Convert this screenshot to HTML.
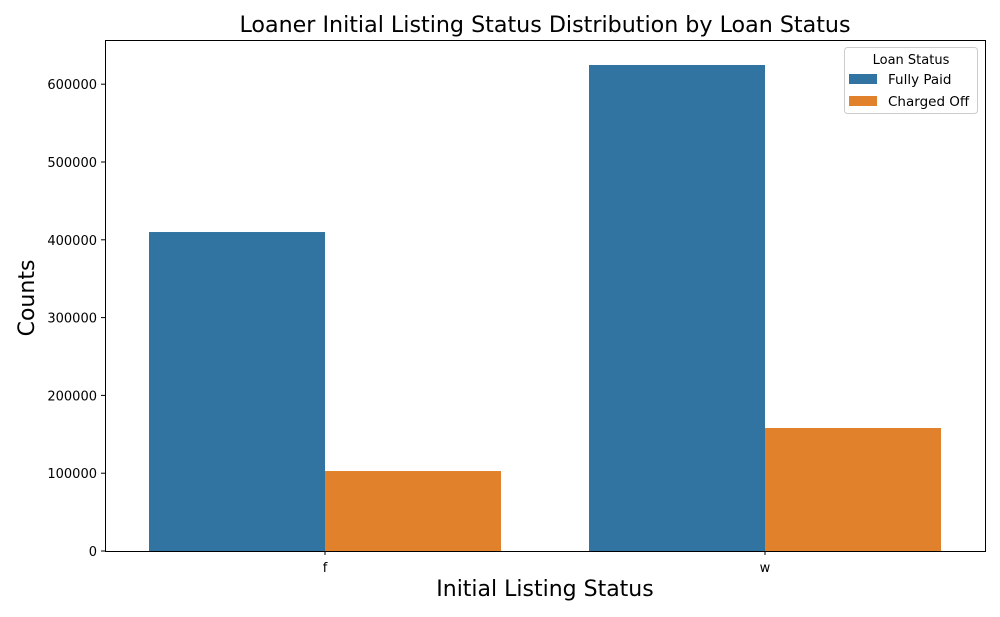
<!DOCTYPE html>
<html><head><meta charset="utf-8"><style>
body{margin:0;background:#fff;}
svg{display:block;font-family:"DejaVu Sans","Liberation Sans",sans-serif;}
</style></head><body>
<svg id="chart" width="1000" height="617" xmlns="http://www.w3.org/2000/svg">
<rect width="1000" height="617" fill="#fff"/>
<text x="545" y="32" text-anchor="middle" font-size="22.2">Loaner Initial Listing Status Distribution by Loan Status</text>
<g id="bars"></g>
<g id="yticks"></g>
<g id="xticks"></g>
<rect x="105.5" y="40.5" width="880" height="511" fill="none" stroke="#000" stroke-width="1"/>
<text x="545" y="596" text-anchor="middle" font-size="22">Initial Listing Status</text>
<text transform="translate(34,298) rotate(-90)" text-anchor="middle" font-size="22">Counts</text>
<g>
<rect x="844.5" y="47.5" width="133" height="66" rx="3" fill="#fff" stroke="#ccc"/>
<text x="911" y="64" text-anchor="middle" font-size="13">Loan Status</text>
<rect x="849" y="74" width="28" height="10" fill="#3274a1"/>
<text x="888" y="84" font-size="13.5">Fully Paid</text>
<rect x="849" y="96" width="28" height="10" fill="#e1812c"/>
<text x="888" y="106" font-size="13.5">Charged Off</text>
</g>
</svg>
<script>
const categories = ["f", "w"];
const fullyPaid = [410000, 624700];
const chargedOff = [102800, 158100];
const yTicks = [0, 100000, 200000, 300000, 400000, 500000, 600000];
const ns = "http://www.w3.org/2000/svg";
const x0 = 105, x1 = 985, yBase = 551, pxPer = 77.8 / 100000;
const band = (x1 - x0) / categories.length;
function y(v) { return yBase - v * pxPer; }
function xc(i) { return x0 + band * (i + 0.5); }
const bw = band * 0.4;
const bars = document.getElementById("bars");
function mk(tag, attrs, parent) {
  const e = document.createElementNS(ns, tag);
  for (const k in attrs) e.setAttribute(k, attrs[k]);
  parent.appendChild(e);
  return e;
}
categories.forEach((c, i) => {
  const b1 = mk("rect", {x: xc(i) - bw, y: y(fullyPaid[i]), width: bw, height: yBase - y(fullyPaid[i]), fill: "#3274a1"}, bars);
  
  
  const b2 = mk("rect", {x: xc(i), y: y(chargedOff[i]), width: bw, height: yBase - y(chargedOff[i]), fill: "#e1812c"}, bars);
  
  
  const xt = document.getElementById("xticks");
  mk("line", {x1: xc(i), x2: xc(i), y1: yBase, y2: yBase + 4, stroke: "#000"}, xt);
  const t = mk("text", {x: xc(i), y: yBase + 21, "text-anchor": "middle", "font-size": 13}, xt);
  t.textContent = c;
  
  
});
const yt = document.getElementById("yticks");
yTicks.forEach(v => {
  mk("line", {x1: x0 - 4, x2: x0, y1: y(v), y2: y(v), stroke: "#000"}, yt);
  const t = mk("text", {x: x0 - 8, y: y(v) + 5, "text-anchor": "end", "font-size": 13}, yt);
  t.textContent = v;
  
  
});
</script>
</body></html>
